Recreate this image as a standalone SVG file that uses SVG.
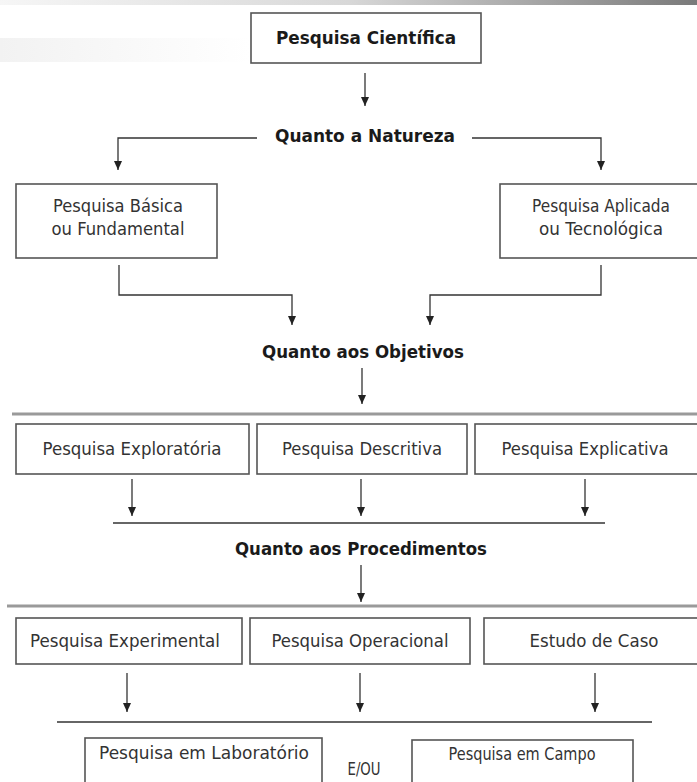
<svg xmlns="http://www.w3.org/2000/svg" width="697" height="782" viewBox="0 0 697 782">
  <defs>
    <linearGradient id="topBar" x1="0" y1="0" x2="1" y2="0">
      <stop offset="0" stop-color="#f6f6f6"/>
      <stop offset="0.5" stop-color="#d8d8d8"/>
      <stop offset="1" stop-color="#7a7a7a"/>
    </linearGradient>
    <linearGradient id="sideBand" x1="0" y1="0" x2="1" y2="0">
      <stop offset="0" stop-color="#f2f2f2"/>
      <stop offset="1" stop-color="#ffffff"/>
    </linearGradient>
    <marker id="arrow" markerWidth="9" markerHeight="8" refX="9" refY="4" orient="auto" markerUnits="userSpaceOnUse" viewBox="0 0 9 8">
      <path d="M0,0 L9,4 L0,8 Z" fill="#222"/>
    </marker>
  </defs>
  <style>
    .box { fill: #ffffff; stroke: #555; stroke-width: 1.6; }
    .arr { fill: none; stroke: #333; stroke-width: 1.3; marker-end: url(#arrow); }
    .rule2 { stroke: #9a9a9a; stroke-width: 3; }
    .rule1 { stroke: #333; stroke-width: 1.4; }
    .t { font-family: "DejaVu Sans", Verdana, sans-serif; font-size: 17px; fill: #333; text-anchor: middle; }
    .h { font-family: "DejaVu Sans", Verdana, sans-serif; font-size: 18.5px; font-weight: bold; fill: #1a1a1a; text-anchor: middle; }
  </style>

  <rect width="697" height="782" fill="#ffffff"/>
  <!-- page decoration -->
  <rect x="0" y="0" width="697" height="5" fill="url(#topBar)"/>
  <rect x="0" y="38" width="250" height="24" fill="url(#sideBand)"/>

  <!-- connectors -->
  <g id="connectors">
    <line class="arr" x1="365" y1="73" x2="365" y2="106"/>
    <polyline class="arr" points="257,138 118,138 118,170"/>
    <polyline class="arr" points="472,138 601,138 601,170"/>
    <polyline class="arr" points="119,265 119,295 292,295 292,325"/>
    <polyline class="arr" points="601,265 601,295 430,295 430,325"/>
    <line class="arr" x1="362" y1="368" x2="362" y2="404"/>
    <line class="rule2" x1="12" y1="414" x2="697" y2="414"/>
    <line class="arr" x1="132" y1="479" x2="132" y2="516"/>
    <line class="arr" x1="361" y1="479" x2="361" y2="516"/>
    <line class="arr" x1="585" y1="479" x2="585" y2="516"/>
    <line class="rule1" x1="113" y1="523" x2="605" y2="523"/>
    <line class="arr" x1="361" y1="565" x2="361" y2="602"/>
    <line class="rule2" x1="7" y1="606" x2="697" y2="606"/>
    <line class="arr" x1="127" y1="673" x2="127" y2="712"/>
    <line class="arr" x1="360" y1="673" x2="360" y2="712"/>
    <line class="arr" x1="595" y1="673" x2="595" y2="712"/>
    <line class="rule1" x1="57" y1="722" x2="652" y2="722"/>
  </g>

  <!-- top level -->
  <g id="pesquisa-cientifica">
    <rect class="box" x="251" y="13" width="230" height="50"/>
    <text class="h" x="366" y="44" textLength="180" lengthAdjust="spacingAndGlyphs">Pesquisa Científica</text>
  </g>

  <g id="quanto-natureza">
    <text class="h" x="365" y="142" textLength="180" lengthAdjust="spacingAndGlyphs">Quanto a Natureza</text>
  </g>

  <g id="pesquisa-basica">
    <rect class="box" x="16" y="184" width="201" height="74"/>
    <text class="t" x="118" y="212" textLength="130" lengthAdjust="spacingAndGlyphs">Pesquisa Básica</text>
    <text class="t" x="118" y="235" textLength="133" lengthAdjust="spacingAndGlyphs">ou Fundamental</text>
  </g>

  <g id="pesquisa-aplicada">
    <rect class="box" x="500" y="184" width="205" height="74"/>
    <text class="t" x="601" y="212" textLength="138" lengthAdjust="spacingAndGlyphs">Pesquisa Aplicada</text>
    <text class="t" x="601" y="235" textLength="124" lengthAdjust="spacingAndGlyphs">ou Tecnológica</text>
  </g>

  <g id="quanto-objetivos">
    <text class="h" x="363" y="358" textLength="202" lengthAdjust="spacingAndGlyphs">Quanto aos Objetivos</text>
  </g>

  <!-- objectives row -->
  <g id="pesquisa-exploratoria">
    <rect class="box" x="16" y="424" width="233" height="50"/>
    <text class="t" x="132" y="455" textLength="179" lengthAdjust="spacingAndGlyphs">Pesquisa Exploratória</text>
  </g>
  <g id="pesquisa-descritiva">
    <rect class="box" x="257" y="424" width="210" height="50"/>
    <text class="t" x="362" y="455" textLength="160" lengthAdjust="spacingAndGlyphs">Pesquisa Descritiva</text>
  </g>
  <g id="pesquisa-explicativa">
    <rect class="box" x="475" y="424" width="230" height="50"/>
    <text class="t" x="585" y="455" textLength="167" lengthAdjust="spacingAndGlyphs">Pesquisa Explicativa</text>
  </g>

  <g id="quanto-procedimentos">
    <text class="h" x="361" y="555" textLength="252" lengthAdjust="spacingAndGlyphs">Quanto aos Procedimentos</text>
  </g>

  <!-- procedures row -->
  <g id="pesquisa-experimental">
    <rect class="box" x="16" y="618" width="226" height="46"/>
    <text class="t" x="125" y="647" textLength="190" lengthAdjust="spacingAndGlyphs">Pesquisa Experimental</text>
  </g>
  <g id="pesquisa-operacional">
    <rect class="box" x="250" y="618" width="220" height="46"/>
    <text class="t" x="360" y="647" textLength="177" lengthAdjust="spacingAndGlyphs">Pesquisa Operacional</text>
  </g>
  <g id="estudo-de-caso">
    <rect class="box" x="484" y="618" width="221" height="46"/>
    <text class="t" x="594" y="647" textLength="129" lengthAdjust="spacingAndGlyphs">Estudo de Caso</text>
  </g>

  <!-- research setting -->
  <g id="pesquisa-laboratorio">
    <rect class="box" x="85" y="738" width="237" height="60"/>
    <text class="t" x="204" y="759" textLength="210" lengthAdjust="spacingAndGlyphs">Pesquisa em Laboratório</text>
  </g>
  <g id="e-ou">
    <text class="t" x="364" y="775" textLength="33" lengthAdjust="spacingAndGlyphs">E/OU</text>
  </g>
  <g id="pesquisa-campo">
    <rect class="box" x="412" y="740" width="221" height="60"/>
    <text class="t" x="522" y="760" textLength="147" lengthAdjust="spacingAndGlyphs">Pesquisa em Campo</text>
  </g>
</svg>
